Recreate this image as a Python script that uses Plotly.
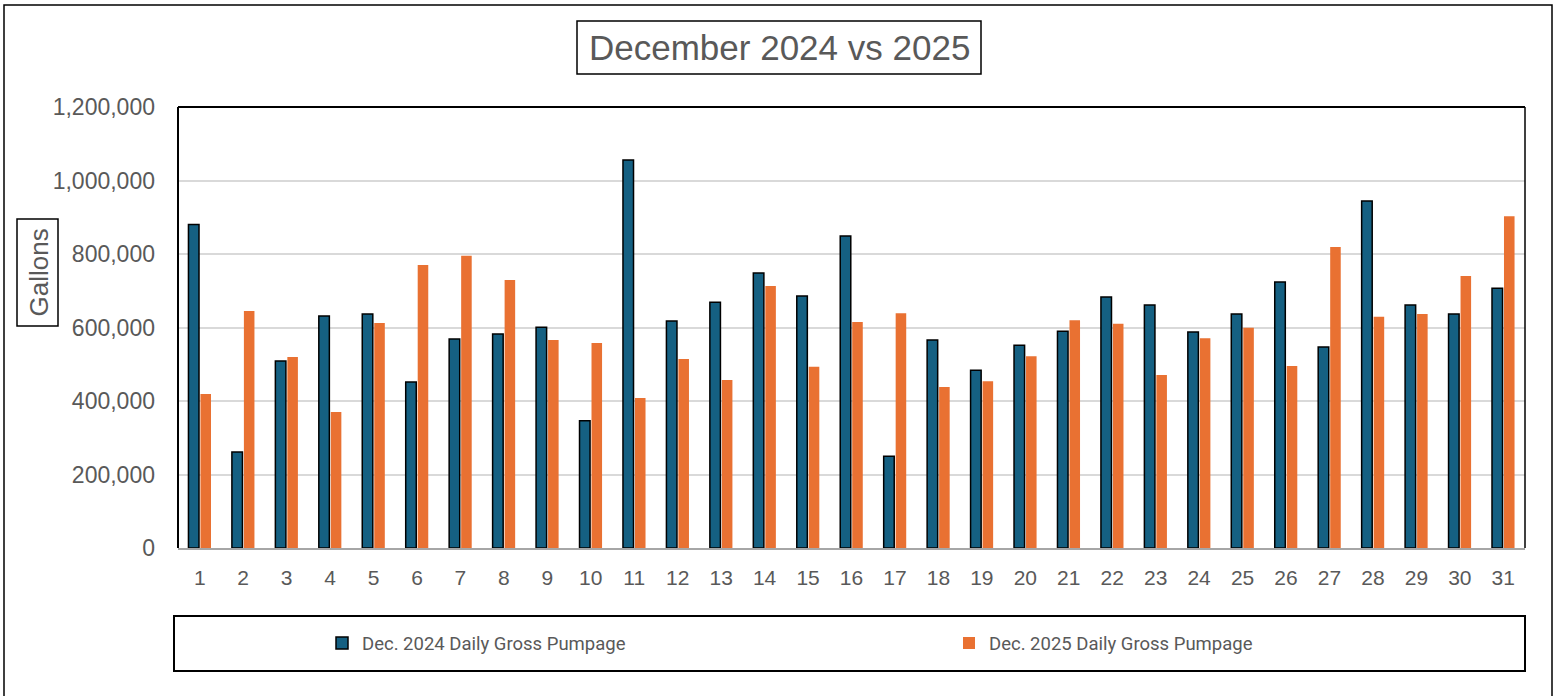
import plotly.graph_objects as go

days = list(range(1, 32))
day_labels = [str(d) for d in days]
dec_2024 = [880000, 261000, 509000, 631000, 637000, 452000, 569000, 582000, 601000, 346000,
            1056000, 618000, 669000, 748000, 686000, 849000, 250000, 566000, 484000, 552000,
            590000, 683000, 661000, 588000, 637000, 724000, 547000, 944000, 661000, 637000, 707000]
dec_2025 = [419000, 645000, 520000, 370000, 612000, 770000, 795000, 729000, 566000, 558000,
            408000, 514000, 457000, 713000, 493000, 615000, 639000, 438000, 454000, 522000,
            620000, 610000, 471000, 571000, 599000, 495000, 819000, 629000, 637000, 740000, 903000]
name_2024 = "Dec. 2024 Daily Gross Pumpage"
name_2025 = "Dec. 2025 Daily Gross Pumpage"
y_ticks = [0, 200000, 400000, 600000, 800000, 1000000, 1200000]

W, H = 1557, 696
L, R, T, B = 178, 1525, 107, 548
pw, ph = R - L, B - T
def px(x): return (x - L) / pw
def py(y): return (B - y) / ph

GREY = "#595959"
fig = go.Figure()
fig.add_trace(go.Bar(x=days, y=dec_2024, name=name_2024,
                     marker=dict(color="#156082", line=dict(color="black", width=1.5))))
fig.add_trace(go.Bar(x=days, y=dec_2025, name=name_2025,
                     marker=dict(color="#E97132", line=dict(width=0))))

shapes = [
    dict(type="rect", xref="paper", yref="paper", x0=px(4), x1=px(1552), y0=py(5), y1=py(700),
         line=dict(color="black", width=1.5)),
    dict(type="line", xref="paper", yref="paper", x0=0, x1=0, y0=0, y1=1, line=dict(color="black", width=2)),
    dict(type="line", xref="paper", yref="paper", x0=0, x1=1, y0=1, y1=1, line=dict(color="black", width=2)),
    dict(type="line", xref="paper", yref="paper", x0=1, x1=1, y0=0, y1=1, line=dict(color="black", width=1.5)),
    dict(type="rect", xref="paper", yref="paper", x0=px(577), x1=px(981), y0=py(21), y1=py(74),
         line=dict(color="black", width=1.5)),
    dict(type="rect", xref="paper", yref="paper", x0=px(17), x1=px(58), y0=py(219), y1=py(326),
         line=dict(color="black", width=1.5)),
    dict(type="rect", xref="paper", yref="paper", x0=px(174), x1=px(1525), y0=py(616), y1=py(671),
         line=dict(color="black", width=2)),
]

annotations = [
    dict(text="December 2024 vs 2025", xref="paper", yref="paper", x=px(779), y=py(47.5),
         xanchor="center", yanchor="middle", showarrow=False,
         font=dict(size=35, color=GREY, family="Liberation Sans, Arial")),
    dict(text="Gallons", xref="paper", yref="paper", x=px(38), y=py(272.5), textangle=-90,
         xanchor="center", yanchor="middle", showarrow=False,
         font=dict(size=26, color=GREY, family="Liberation Sans, Arial")),
]

fig.update_layout(
    width=W, height=H,
    margin=dict(l=L, r=W - R, t=T, b=H - B, autoexpand=False),
    paper_bgcolor="white", plot_bgcolor="white",
    barmode="group", bargap=0.448, bargroupgap=0.12,
    shapes=shapes, annotations=annotations,
    showlegend=True,
    legend=dict(orientation="h", x=px(322), y=py(643.5), xanchor="left", yanchor="middle",
                entrywidth=582, entrywidthmode="pixels",
                font=dict(size=18.5, color=GREY, family="Roboto, Liberation Sans"),
                bgcolor="rgba(0,0,0,0)", borderwidth=0),
    font=dict(family="Liberation Sans, Arial", color=GREY),
)
fig.update_xaxes(range=[0.5, 31.5], tickmode="array", tickvals=days, ticktext=day_labels,
                 showgrid=False, showline=True, linecolor="#a6a6a6", linewidth=1.5,
                 ticks="", tickfont=dict(size=21, color=GREY), ticklabelstandoff=10, fixedrange=True)
fig.update_yaxes(range=[0, 1200000], tickmode="array", tickvals=y_ticks,
                 ticktext=[f"{v:,}" for v in y_ticks], showgrid=True, gridcolor="#d9d9d9", gridwidth=1.5,
                 zeroline=False, showline=False, ticks="", tickfont=dict(size=23, color=GREY),
                 ticklabelstandoff=22, fixedrange=True)

fig.write_html("out.html", config={"displayModeBar": False},
               post_script="document.body.style.margin='0px';document.body.style.overflow='hidden';")
